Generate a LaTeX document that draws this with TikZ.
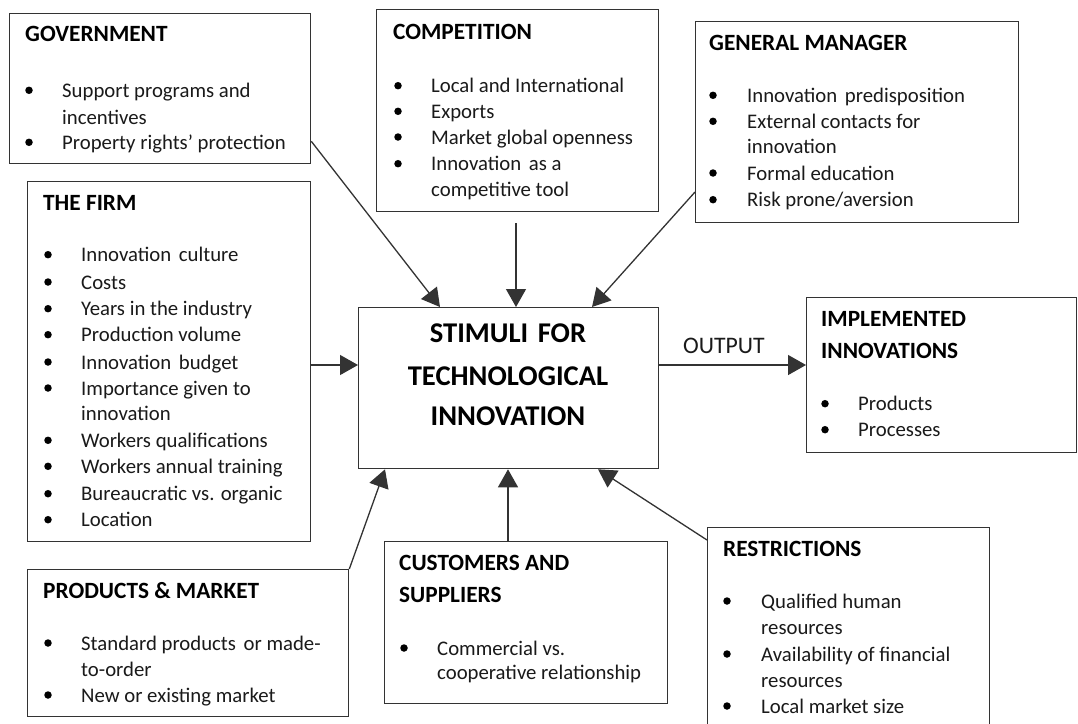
\documentclass[tikz,border=0pt]{standalone}
\usepackage{fontspec}
\setmainfont{Carlito}
\usetikzlibrary{arrows.meta,calc}

\definecolor{txtcol}{HTML}{1A1A1A}
\definecolor{linecol}{HTML}{333333}

% placement helpers: bullet x, text x, heading x are set per box
\newcommand\bulx{0}
\newcommand\txtx{0}
\newcommand\hdx{0}
\newcommand\bitem[3]{\node[dot] (#1-dot) at (\bulx,#2-7) {}; \node[item] (#1) at (\txtx,#2) {#3};}
\newcommand\citem[3]{\node[item] (#1) at (\txtx,#2) {#3};}
\newcommand\boxhead[3]{\node[boxtitle] (#1) at (\hdx,#2) {#3};}
% a word space widened a little
\newcommand\xsp{\ \hspace{3pt}}

\tikzset{
  box/.style={draw=linecol, line width=1.3pt, fill=white, rectangle, inner sep=0pt, anchor=north west},
  item/.style={anchor=base west, inner sep=0pt, text=txtcol, font=\fontsize{20.75}{25}\selectfont},
  boxtitle/.style={anchor=base west, inner sep=0pt, text=black, font=\fontsize{23.3}{28}\selectfont\bfseries},
  bigtitle/.style={anchor=base, inner sep=0pt, text=black, font=\fontsize{28.6}{34}\selectfont\bfseries},
  dot/.style={circle, fill=black, inner sep=0pt, minimum size=7.5pt},
  link/.style={draw=linecol, line width=1.3pt, -{Triangle[length=18pt,width=20pt]}},
}

\begin{document}
\begin{tikzpicture}[x=1pt,y=-1pt]
\clip (0,0) rectangle (1078,723);
\fill[white] (0,0) rectangle (1078,723);

% ---- boxes ----
\node[box, minimum width=301pt, minimum height=150pt] (gov)  at (9,13) {};
\node[box, minimum width=282pt, minimum height=202pt] (comp) at (376,9) {};
\node[box, minimum width=323pt, minimum height=201pt] (gm)   at (695,21) {};
\node[box, minimum width=283pt, minimum height=360pt] (firm) at (27,181) {};
\node[box, minimum width=300pt, minimum height=161pt] (ctr)  at (358,307) {};
\node[box, minimum width=270pt, minimum height=155pt] (impl) at (806,297) {};
\node[box, minimum width=321pt, minimum height=147pt] (pm)   at (27,569) {};
\node[box, minimum width=283pt, minimum height=162pt] (cust) at (384,541) {};
\node[box, minimum width=282pt, minimum height=220pt] (rest) at (707,527) {};

% ---- government ----
\renewcommand\hdx{25}\renewcommand\bulx{29}\renewcommand\txtx{62}
\boxhead{gov-h}{41.7}{GOVERNMENT}
\bitem{gov-1}{97.3}{Support programs and}
\citem{gov-1b}{124}{incentives}
\bitem{gov-2}{149.3}{Property rights’ protection}

% ---- competition ----
\renewcommand\hdx{393}\renewcommand\bulx{398}\renewcommand\txtx{431}
\boxhead{comp-h}{39.3}{COMPETITION}
\bitem{comp-1}{92.7}{Local and International}
\bitem{comp-2}{118.3}{Exports}
\bitem{comp-3}{144}{Market global openness}
\bitem{comp-4}{170.7}{Innovation\xsp as a}
\citem{comp-4b}{196}{competitive tool}

% ---- general manager ----
\renewcommand\hdx{709}\renewcommand\bulx{713}\renewcommand\txtx{747}
\boxhead{gm-h}{50}{GENERAL MANAGER}
\bitem{gm-1}{102.3}{Innovation\xsp predisposition}
\bitem{gm-2}{128.3}{External contacts for}
\citem{gm-2b}{153.3}{innovation}
\bitem{gm-3}{180}{Formal education}
\bitem{gm-4}{206.7}{Risk prone/aversion}

% ---- the firm ----
\renewcommand\hdx{43}\renewcommand\bulx{48}\renewcommand\txtx{81}
\boxhead{firm-h}{210}{THE FIRM}
\bitem{firm-1}{261.7}{Innovation\xsp culture}
\bitem{firm-2}{289}{Costs}
\bitem{firm-3}{315.7}{Years in the industry}
\bitem{firm-4}{341.7}{Production volume}
\bitem{firm-5}{369}{Innovation\xsp budget}
\bitem{firm-6}{395}{Importance given to}
\citem{firm-6b}{420.7}{innovation}
\bitem{firm-7}{447.3}{Workers qualifications}
\bitem{firm-8}{473.3}{Workers annual training}
\bitem{firm-9}{500.7}{Bureaucratic vs. organic}
\bitem{firm-10}{526.7}{Location}

% ---- centre ----
\node[bigtitle] (ctr-1) at (508,342) {STIMULI\xsp FOR};
\node[bigtitle] (ctr-2) at (508,385) {TECHNOLOGICAL};
\node[bigtitle] (ctr-3) at (508,425) {INNOVATION};

% ---- implemented innovations ----
\renewcommand\hdx{821}\renewcommand\bulx{825}\renewcommand\txtx{858}
\boxhead{impl-h1}{326}{IMPLEMENTED}
\boxhead{impl-h2}{358}{INNOVATIONS}
\bitem{impl-1}{410.7}{Products}
\bitem{impl-2}{436.7}{Processes}

% ---- products & market ----
\renewcommand\hdx{43}\renewcommand\bulx{48}\renewcommand\txtx{81}
\boxhead{pm-h}{598}{PRODUCTS \& MARKET}
\bitem{pm-1}{650}{Standard products\xsp or made-}
\citem{pm-1b}{676}{to-order}
\bitem{pm-2}{702}{New or existing market}

% ---- customers and suppliers ----
\renewcommand\hdx{399}\renewcommand\bulx{404}\renewcommand\txtx{437}
\boxhead{cust-h1}{570}{CUSTOMERS AND}
\boxhead{cust-h2}{602.7}{SUPPLIERS}
\bitem{cust-1}{655}{Commercial vs.}
\citem{cust-1b}{679}{cooperative relationship}

% ---- restrictions ----
\renewcommand\hdx{723}\renewcommand\bulx{727}\renewcommand\txtx{761}
\boxhead{rest-h}{556}{RESTRICTIONS}
\bitem{rest-1}{608}{Qualified human}
\citem{rest-1b}{634}{resources}
\bitem{rest-2}{661}{Availability of financial}
\citem{rest-2b}{687}{resources}
\bitem{rest-3}{713}{Local market size}

% ---- connectors ----
\draw[link] ($(gov.south east)+(0,-23)$) -- ($(ctr.north west)+(82,0)$);
\coordinate (comp-out) at ($(comp.south west)+(140,11)$);
\draw[link] (comp-out) -- ($(ctr.north west)+(158,0)$);
\draw[link] ($(gm.north west)+(0,171)$) -- ($(ctr.north west)+(234,0)$);
\draw[link] ($(firm.north east)+(0,184)$) -- ($(ctr.north west)+(0,58)$);
\draw[link] ($(ctr.north east)+(0,58)$) -- ($(impl.north west)+(0,68)$);
\node[item, font=\fontsize{23.7}{28}\selectfont] (outlbl) at (683,353) {OUTPUT};
\draw[link] (pm.north east) -- ($(ctr.south west)+(27,0)$);
\draw[link] ($(cust.north west)+(124,0)$) -- ($(ctr.south west)+(150,0)$);
\draw[link] ($(rest.north west)+(0,13)$) -- ($(ctr.south west)+(240,0)$);
\end{tikzpicture}
\end{document}
